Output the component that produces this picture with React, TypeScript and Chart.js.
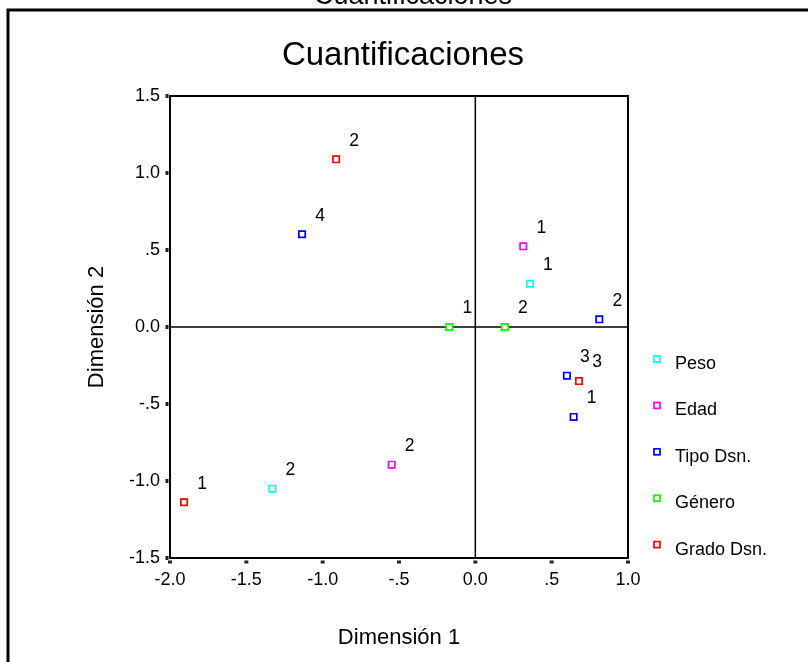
import React, { useEffect, useRef } from "react";
import { Chart, registerables } from "chart.js";

Chart.register(...registerables);

// ---- data ----
const seriesNames = ["Peso", "Edad", "Tipo Dsn.", "Género", "Grado Dsn."];
const seriesColors = ["#00FFFF", "#FF00FF", "#0000FF", "#00FF00", "#FF0000"];

const pesoX = [0.358, -1.329];
const pesoY = [0.281, -1.05];
const pesoLabels = ["1", "2"];

const edadX = [0.314, -0.548];
const edadY = [0.524, -0.894];
const edadLabels = ["1", "2"];

const tipoX = [0.644, 0.812, 0.6, -1.135];
const tipoY = [-0.584, 0.05, -0.316, 0.602];
const tipoLabels = ["1", "2", "3", "4"];

const generoX = [-0.17, 0.194];
const generoY = [0, 0];
const generoLabels = ["1", "2"];

const gradoX = [-1.908, -0.912, 0.679];
const gradoY = [-1.138, 1.089, -0.351];
const gradoLabels = ["1", "2", "3"];

const xTickValues = [-2, -1.5, -1, -0.5, 0, 0.5, 1];
const xTickLabels = ["-2.0", "-1.5", "-1.0", "-.5", "0.0", ".5", "1.0"];
const yTickValues = [-1.5, -1, -0.5, 0, 0.5, 1, 1.5];
const yTickLabels = ["-1.5", "-1.0", "-.5", "0.0", ".5", "1.0", "1.5"];

const titleText = "Cuantificaciones";
const xTitle = "Dimensión 1";
const yTitle = "Dimensión 2";

const FONT = "'Liberation Sans', Arial, Helvetica, sans-serif";

const seriesX = [pesoX, edadX, tipoX, generoX, gradoX];
const seriesY = [pesoY, edadY, tipoY, generoY, gradoY];
const seriesLabels = [pesoLabels, edadLabels, tipoLabels, generoLabels, gradoLabels];

const decorPlugin = {
  id: "decor",
  beforeDatasetsDraw(chart: any) {
    const { ctx, chartArea: a, scales } = chart;
    ctx.save();
    const x0 = scales.x.getPixelForValue(0);
    const y0 = scales.y.getPixelForValue(0);
    ctx.strokeStyle = "#000";
    ctx.lineWidth = 1.5;
    ctx.beginPath();
    ctx.moveTo(x0, a.top);
    ctx.lineTo(x0, a.bottom);
    ctx.moveTo(a.left, y0);
    ctx.lineTo(a.right, y0);
    ctx.stroke();
    ctx.lineWidth = 2;
    ctx.strokeRect(a.left, a.top, a.right - a.left, a.bottom - a.top);
    ctx.fillStyle = "#222";
    for (const v of xTickValues) {
      const px = scales.x.getPixelForValue(v);
      ctx.fillRect(px - 2, a.bottom + 2.5, 4, 3);
    }
    for (const v of yTickValues) {
      const py = scales.y.getPixelForValue(v);
      ctx.fillRect(a.left - 4.5, py - 2, 3, 4);
    }
    ctx.restore();
  },
  afterDatasetsDraw(chart: any) {
    const { ctx } = chart;
    ctx.save();
    // point labels
    ctx.fillStyle = "#000";
    ctx.font = `17.5px ${FONT}`;
    ctx.textAlign = "center";
    ctx.textBaseline = "middle";
    chart.data.datasets.forEach((ds: any, i: number) => {
      const meta = chart.getDatasetMeta(i);
      meta.data.forEach((pt: any, j: number) => {
        ctx.fillText(ds.pointLabels[j], pt.x + 18, pt.y - 18.5);
      });
    });
    // legend
    const legX = 657;
    const legY0 = 359;
    const legStep = 46.4;
    chart.data.datasets.forEach((ds: any, i: number) => {
      const cy = legY0 + i * legStep;
      ctx.strokeStyle = ds.borderColor;
      ctx.lineWidth = 1.7;
      ctx.fillStyle = "#fff";
      ctx.fillRect(legX - 3, cy - 3, 6, 6);
      ctx.strokeRect(legX - 3, cy - 3, 6, 6);
      ctx.fillStyle = "#000";
      ctx.font = `18px ${FONT}`;
      ctx.textAlign = "left";
      ctx.textBaseline = "alphabetic";
      ctx.fillText(ds.label, 675, cy + 10);
    });
    ctx.restore();
  },
  afterDraw(chart: any) {
    const { ctx, chartArea: a } = chart;
    ctx.save();
    ctx.fillStyle = "#000";
    // clipped outer title
    ctx.textAlign = "center";
    ctx.textBaseline = "alphabetic";
    ctx.font = `27px ${FONT}`;
    ctx.fillText(titleText, 413, 4);
    // outer frame
    ctx.strokeStyle = "#000";
    ctx.lineWidth = 3;
    ctx.beginPath();
    ctx.moveTo(8, 820);
    ctx.lineTo(8, 10);
    ctx.lineTo(900, 10);
    ctx.stroke();
    // main title
    ctx.font = `33px ${FONT}`;
    ctx.fillText(titleText, 403, 65);
    // x axis title
    ctx.font = `22px ${FONT}`;
    ctx.fillText(xTitle, (a.left + a.right) / 2, 644);
    // y axis title
    ctx.translate(94.5 + 8, (a.top + a.bottom) / 2);
    ctx.rotate(-Math.PI / 2);
    ctx.fillText(yTitle, 0, 0);
    ctx.restore();
  },
};

export default function App() {
  const ref = useRef<HTMLCanvasElement | null>(null);

  useEffect(() => {
    if (!ref.current) return;
    const datasets = seriesNames.map((name, i) => ({
      label: name,
      data: seriesX[i].map((x, j) => ({ x, y: seriesY[i][j] })),
      pointLabels: seriesLabels[i],
      borderColor: seriesColors[i],
      backgroundColor: "#ffffff",
      pointStyle: "rect",
      pointRadius: 4.5,
      pointBorderWidth: 1.7,
      pointHoverRadius: 4.5,
      showLine: false,
    }));

    const chart = new Chart(ref.current, {
      type: "scatter",
      data: { datasets: datasets as any },
      options: {
        animation: false,
        responsive: false,
        events: [],
        layout: { padding: { left: 0, top: 96, right: 180, bottom: 0 } },
        plugins: {
          legend: { display: false },
          title: { display: false },
          tooltip: { enabled: false },
        },
        scales: {
          x: {
            type: "linear",
            min: -2,
            max: 1,
            grid: { display: false, drawTicks: false },
            border: { display: false },
            afterFit: (s: any) => {
              s.height = 104;
            },
            afterBuildTicks: (s: any) => {
              s.ticks = xTickValues.map((v) => ({ value: v }));
            },
            ticks: {
              padding: 11,
              color: "#000",
              font: { family: FONT, size: 18 },
              autoSkip: false,
              maxRotation: 0,
              callback: (_v: any, i: number) => xTickLabels[i],
            },
          },
          y: {
            type: "linear",
            min: -1.5,
            max: 1.5,
            grid: { display: false, drawTicks: false },
            border: { display: false },
            afterFit: (s: any) => {
              s.width = 170;
            },
            afterBuildTicks: (s: any) => {
              s.ticks = yTickValues.map((v) => ({ value: v }));
            },
            ticks: {
              padding: 10,
              color: "#000",
              font: { family: FONT, size: 18 },
              autoSkip: false,
              callback: (_v: any, i: number) => yTickLabels[i],
            },
          },
        },
      },
      plugins: [decorPlugin],
    });
    return () => chart.destroy();
  }, []);

  return (
    <div style={{ position: "absolute", left: 0, top: 0, width: 808, height: 662, background: "#fff" }}>
      <canvas ref={ref} width={808} height={662} style={{ width: 808, height: 662, display: "block" }} />
    </div>
  );
}
